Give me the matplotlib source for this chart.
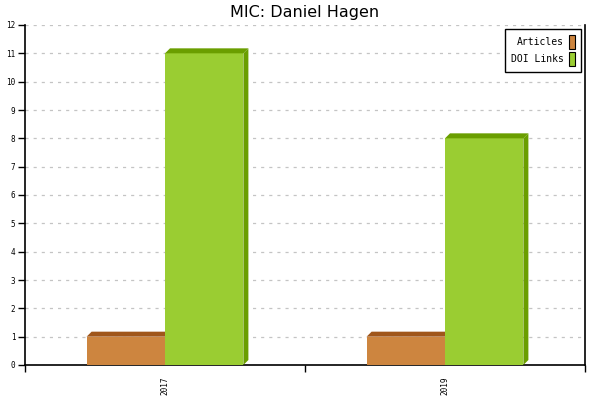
import numpy as np
import matplotlib
matplotlib.use('Agg')
import matplotlib.pyplot as plt
from matplotlib.patches import Polygon, Patch

#%% data
years = ['2017', '2019']
articles = [1, 1]
doi_links = [11, 8]
series = [('Articles', articles, '#cd853f', '#a0561a'),
          ('DOI Links', doi_links, '#9acd32', '#6a9e00')]

#%% figure
fig = plt.figure(figsize=(6, 4), dpi=100)
ax = fig.add_axes([25/600, 35/400, 560/600, 340/400])
ax.set_xlim(-0.5, len(years) - 0.5)
ax.set_ylim(0, 12)

bw = 0.28  # bar width in category units
# depth of the fake 3d effect, 5 px converted to data units
dx = 5 * (len(years)) / 560
dy = 5 * 12 / 340

x = np.arange(len(years))
for i, (name, vals, face, dark) in enumerate(series):
    for xc, h in zip(x, vals):
        x0 = xc - bw + i * bw
        x1 = x0 + bw
        ax.add_patch(Polygon([(x0, 0), (x1, 0), (x1, h), (x0, h)],
                             closed=True, facecolor=face, edgecolor='none', zorder=3))
        ax.add_patch(Polygon([(x0, h), (x1, h), (x1 + dx, h + dy), (x0 + dx, h + dy)],
                             closed=True, facecolor=dark, edgecolor='none', zorder=3))
        ax.add_patch(Polygon([(x1, 0), (x1 + dx, dy), (x1 + dx, h + dy), (x1, h)],
                             closed=True, facecolor=dark, edgecolor='none', zorder=3))

#%% axes styling
ax.spines['top'].set_visible(False)
for s in ['left', 'right', 'bottom']:
    ax.spines[s].set_linewidth(1.2)

ax.set_yticks(range(0, 13))
ax.yaxis.grid(True, color='#c4c4c4', linestyle=(0, (2.5, 4)), linewidth=0.9)
ax.set_axisbelow(True)
ax.tick_params(axis='y', length=5, width=1, direction='out', labelsize=5.5, pad=2)

ax.set_xticks(np.arange(-0.5, len(years), 1.0))
ax.set_xticklabels([])
ax.set_xticks(x, minor=True)
ax.set_xticklabels(years, minor=True, rotation=90)
ax.tick_params(axis='x', which='major', length=5, width=1, direction='out')
ax.tick_params(axis='x', which='minor', length=0, labelsize=5.5, pad=8)

for lab in ax.get_yticklabels() + ax.get_xticklabels(minor=True):
    lab.set_family('DejaVu Sans Mono')

ax.set_title('MIC: Daniel Hagen', fontsize=11.5, family='DejaVu Sans', pad=6)

handles = [Patch(facecolor=face, edgecolor='black', linewidth=0.8, label=name)
           for name, _, face, _ in series]
leg = ax.legend(handles=handles, loc='upper right', markerfirst=False,
                prop={'family': 'DejaVu Sans Mono', 'size': 7},
                handlelength=0.65, handleheight=1.9, handletextpad=0.5,
                fancybox=False, edgecolor='black', framealpha=1,
                borderaxespad=0.4, labelspacing=0.25, borderpad=0.6)
leg.get_frame().set_linewidth(1)

plt.savefig('out.png', dpi=100)
